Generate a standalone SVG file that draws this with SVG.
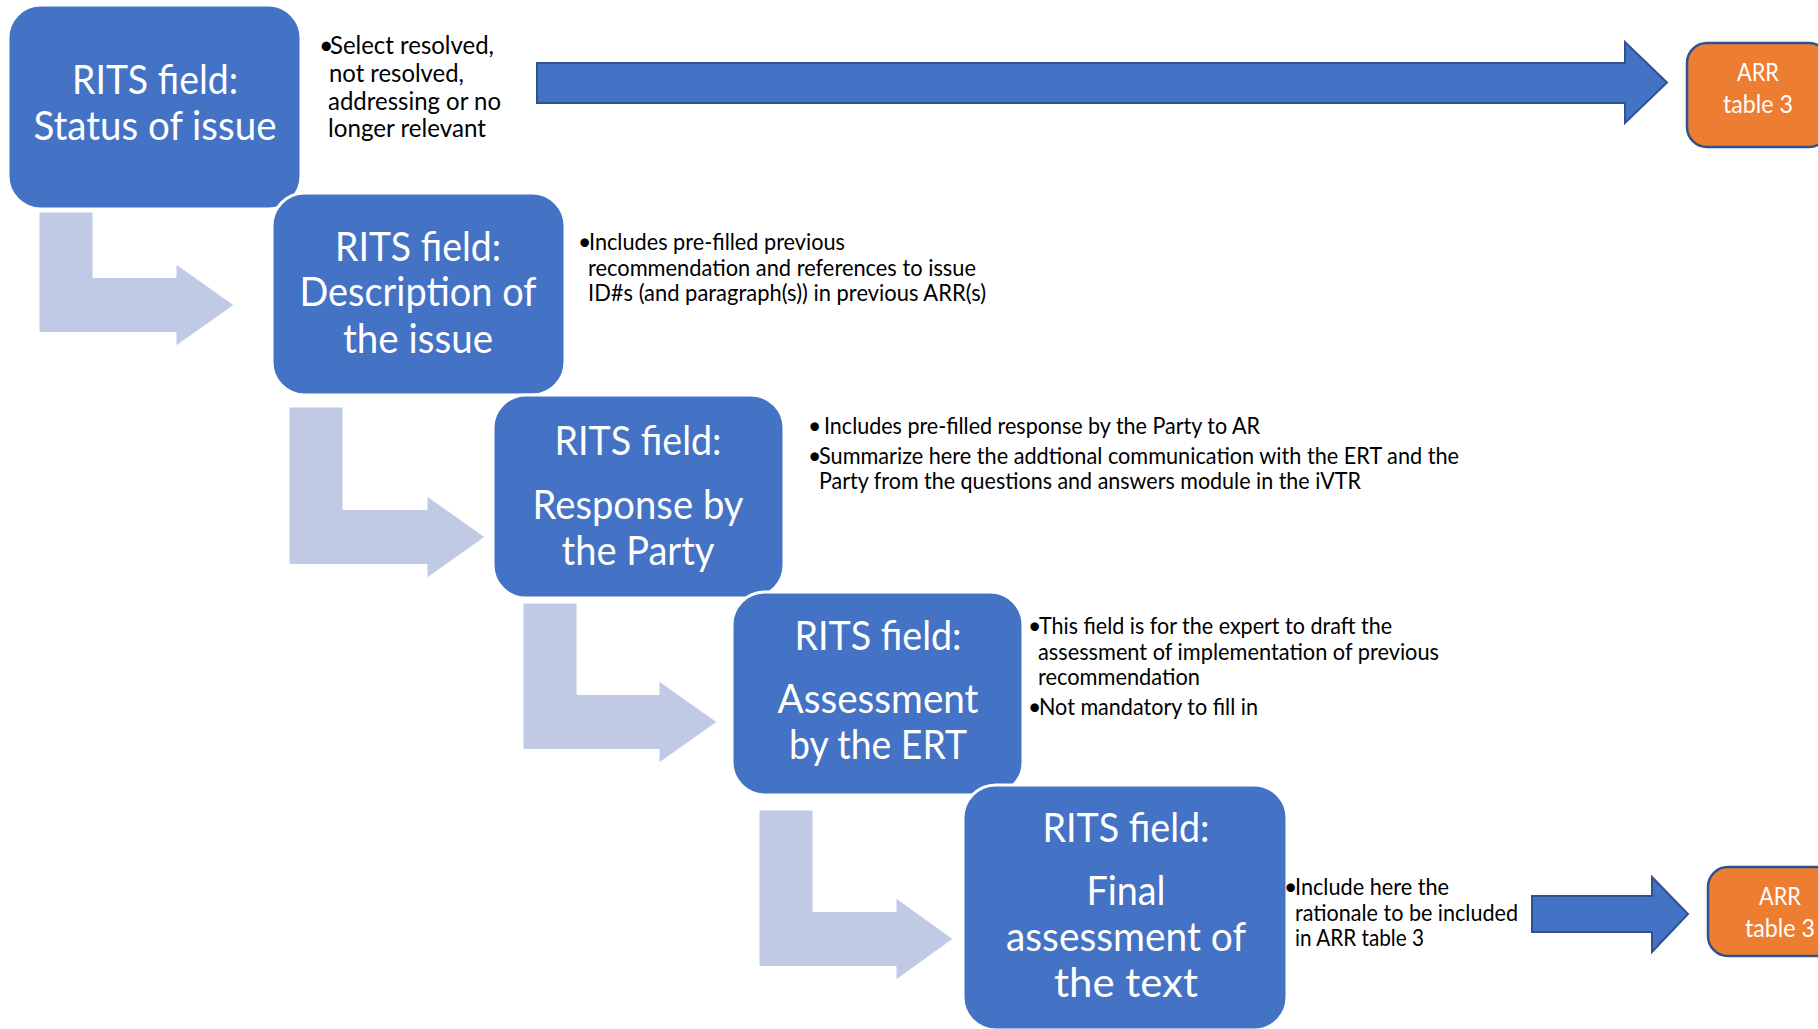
<svg xmlns="http://www.w3.org/2000/svg" width="1818" height="1029" viewBox="0 0 1818 1029">
<defs>
<style>
.box{fill:#4472C4;stroke:#FFFFFF;stroke-width:3}
.arr{fill:#ED7D31;stroke:#2F528F;stroke-width:2.5}
.lt{fill:#C0CAE4;stroke:#FFFFFF;stroke-width:1}
.bl{fill:#4472C4;stroke:#2F528F;stroke-width:2}
.t{font-family:Lato,"Liberation Sans",sans-serif;fill:#FFFFFF;text-anchor:middle;font-size:40px}
.a{font-family:Lato,"Liberation Sans",sans-serif;fill:#FFFFFF;text-anchor:middle;font-size:25px}
.b{font-family:Lato,"Liberation Sans",sans-serif;fill:#000000;font-size:23px}
.b1{font-family:Lato,"Liberation Sans",sans-serif;fill:#000000;font-size:25px}
</style>
</defs>
<rect width="1818" height="1029" fill="#FFFFFF"/>
<g id="connectors">
<path class="lt" d="M39,212 H93 V277.5 H176 V264 L234,305 L176,346 V332.5 H39 Z"/>
<path class="lt" d="M289,407 H343 V509.5 H427 V496 L485,537 L427,578 V564.5 H289 Z"/>
<path class="lt" d="M523,603 H577 V694.5 H659 V681 L717,722 L659,763 V749.5 H523 Z"/>
<path class="lt" d="M759,810 H813 V911.5 H896 V898 L953,939 L896,980 V966.5 H759 Z"/>
<path class="bl" d="M537,63 H1625 V42 L1667,82.5 L1625,123 V103 H537 Z"/>
<path class="bl" d="M1532,896 H1652 V877 L1688,914 L1652,952 V932 H1532 Z"/>
</g>
<g id="node-status">
<rect class="box" x="8" y="5" width="293" height="204" rx="33"/>
<text class="t" x="155" y="94" textLength="166" lengthAdjust="spacingAndGlyphs">RITS field:</text>
<text class="t" x="155" y="140" textLength="243" lengthAdjust="spacingAndGlyphs">Status of issue</text>
</g>
<g id="note-status">
<text class="b1" x="319" y="54">•</text>
<text class="b1" x="330" y="54" textLength="164" lengthAdjust="spacingAndGlyphs">Select resolved,</text>
<text class="b1" x="329" y="82" textLength="135" lengthAdjust="spacingAndGlyphs">not resolved,</text>
<text class="b1" x="328" y="110" textLength="173" lengthAdjust="spacingAndGlyphs">addressing or no</text>
<text class="b1" x="328" y="137" textLength="158" lengthAdjust="spacingAndGlyphs">longer relevant</text>
</g>
<g id="node-arr-top">
<rect class="arr" x="1687" y="43" width="142" height="104" rx="20"/>
<text class="a" x="1758" y="81" textLength="42" lengthAdjust="spacingAndGlyphs">ARR</text>
<text class="a" x="1758" y="113" textLength="70" lengthAdjust="spacingAndGlyphs">table 3</text>
</g>
<g id="node-description">
<rect class="box" x="272" y="193" width="293" height="202" rx="33"/>
<text class="t" x="418" y="261" textLength="166" lengthAdjust="spacingAndGlyphs">RITS field:</text>
<text class="t" x="418" y="306" textLength="237" lengthAdjust="spacingAndGlyphs">Description of</text>
<text class="t" x="418" y="353" textLength="150" lengthAdjust="spacingAndGlyphs">the issue</text>
</g>
<g id="note-description">
<text class="b" x="578" y="250">•</text>
<text class="b" x="589" y="250" textLength="256" lengthAdjust="spacingAndGlyphs">Includes pre-filled previous</text>
<text class="b" x="588" y="276" textLength="388" lengthAdjust="spacingAndGlyphs">recommendation and references to issue</text>
<text class="b" x="588" y="301" textLength="398" lengthAdjust="spacingAndGlyphs">ID#s (and paragraph(s)) in previous ARR(s)</text>
</g>
<g id="node-response">
<rect class="box" x="493" y="395" width="291" height="203" rx="33"/>
<text class="t" x="638" y="455" textLength="167" lengthAdjust="spacingAndGlyphs">RITS field:</text>
<text class="t" x="638" y="519" textLength="211" lengthAdjust="spacingAndGlyphs">Response by</text>
<text class="t" x="638" y="565" textLength="153" lengthAdjust="spacingAndGlyphs">the Party</text>
</g>
<g id="note-response">
<text class="b" x="808" y="434">•</text>
<text class="b" x="824" y="434" textLength="436" lengthAdjust="spacingAndGlyphs">Includes pre-filled response by the Party to AR</text>
<text class="b" x="808" y="464">•</text>
<text class="b" x="819" y="464" textLength="640" lengthAdjust="spacingAndGlyphs">Summarize here the addtional communication with the ERT and the</text>
<text class="b" x="819" y="489" textLength="542" lengthAdjust="spacingAndGlyphs">Party from the questions and answers module in the iVTR</text>
</g>
<g id="node-assessment">
<rect class="box" x="732" y="592" width="291" height="203" rx="33"/>
<text class="t" x="878" y="650" textLength="167" lengthAdjust="spacingAndGlyphs">RITS field:</text>
<text class="t" x="878" y="713" textLength="201" lengthAdjust="spacingAndGlyphs">Assessment</text>
<text class="t" x="878" y="759" textLength="178" lengthAdjust="spacingAndGlyphs">by the ERT</text>
</g>
<g id="note-assessment">
<text class="b" x="1028" y="634">•</text>
<text class="b" x="1039" y="634" textLength="353" lengthAdjust="spacingAndGlyphs">This field is for the expert to draft the</text>
<text class="b" x="1038" y="660" textLength="401" lengthAdjust="spacingAndGlyphs">assessment of implementation of previous</text>
<text class="b" x="1038" y="685" textLength="162" lengthAdjust="spacingAndGlyphs">recommendation</text>
<text class="b" x="1028" y="715">•</text>
<text class="b" x="1039" y="715" textLength="219" lengthAdjust="spacingAndGlyphs">Not mandatory to fill in</text>
</g>
<g id="node-final">
<rect class="box" x="963" y="785" width="324" height="245" rx="33"/>
<text class="t" x="1126" y="842" textLength="167" lengthAdjust="spacingAndGlyphs">RITS field:</text>
<text class="t" x="1126" y="905" textLength="79" lengthAdjust="spacingAndGlyphs">Final</text>
<text class="t" x="1126" y="951" textLength="240" lengthAdjust="spacingAndGlyphs">assessment of</text>
<text class="t" x="1126" y="997" textLength="144" lengthAdjust="spacingAndGlyphs">the text</text>
</g>
<g id="note-final">
<text class="b" x="1284" y="895">•</text>
<text class="b" x="1295" y="895" textLength="154" lengthAdjust="spacingAndGlyphs">Include here the</text>
<text class="b" x="1295" y="921" textLength="223" lengthAdjust="spacingAndGlyphs">rationale to be included</text>
<text class="b" x="1295" y="946" textLength="129" lengthAdjust="spacingAndGlyphs">in ARR table 3</text>
</g>
<g id="node-arr-bottom">
<rect class="arr" x="1708" y="867" width="144" height="89" rx="20"/>
<text class="a" x="1780" y="905" textLength="42" lengthAdjust="spacingAndGlyphs">ARR</text>
<text class="a" x="1780" y="937" textLength="70" lengthAdjust="spacingAndGlyphs">table 3</text>
</g>
</svg>
